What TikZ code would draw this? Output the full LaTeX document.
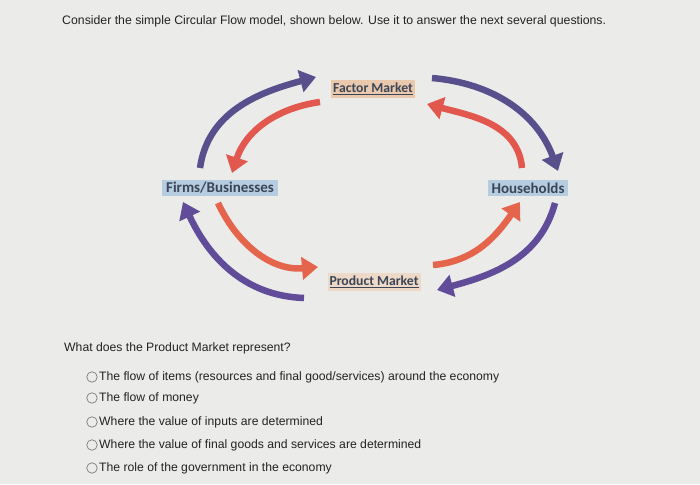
\documentclass[tikz,border=0pt]{standalone}
\usepackage{fontspec}
\setmainfont{Liberation Sans}
\newfontfamily\boxfont{Carlito}
\usetikzlibrary{arrows.meta}
\definecolor{bg}{RGB}{235,235,233}
\definecolor{flowpurple}{RGB}{88,80,140}
\definecolor{flowviolet}{RGB}{96,76,152}
\definecolor{flowred}{RGB}{226,88,78}
\definecolor{floworange}{RGB}{228,100,76}
\definecolor{boxblue}{RGB}{182,204,224}
\definecolor{boxpeach}{RGB}{234,200,174}
\definecolor{boxpeachlt}{RGB}{238,216,200}
\definecolor{labeltext}{RGB}{58,70,86}
\definecolor{qtext}{RGB}{35,35,35}
\tikzset{
  flow/.style={line width=6.5pt, -{Triangle[width=22pt,length=16pt]}},
  mkt/.style={font=\boxfont\bfseries\fontsize{13.7}{15}\selectfont, text=labeltext, inner xsep=2pt, inner ysep=3pt},
  agent/.style={font=\boxfont\bfseries\fontsize{15}{16}\selectfont, text=labeltext, inner xsep=4pt, inner ysep=2.5pt, fill=boxblue},
  qline/.style={anchor=west, font=\fontsize{12.2}{14}\selectfont, text=qtext, inner sep=0pt},
  radio/.style={circle, draw=gray!85!black, line width=0.6pt, minimum size=10.5pt, inner sep=0pt}
}
\begin{document}
\begin{tikzpicture}[x=1pt,y=1pt]
\fill[bg] (0,0) rectangle (700,484);
\useasboundingbox (0,0) rectangle (700,484);

\node[qline, font=\fontsize{12.3}{14}\selectfont] (title) at (62,463) {Consider the simple Circular Flow model, shown below. Use it to answer the next several questions.};

\node[mkt, fill=boxpeach] (factor) at (373,395) {\underline{Factor Market}};
\node[agent] (firms) at (220,296) {Firms/Businesses};
\node[agent] (house) at (528,296) {Households};
\node[mkt, fill=boxpeachlt] (product) at (374,202) {\underline{Product Market}};

\coordinate (a1s) at (200,316); \coordinate (a1e) at (316,407);
\coordinate (a2s) at (320,382); \coordinate (a2e) at (232,311);
\coordinate (a3s) at (432,406); \coordinate (a3e) at (558,313);
\coordinate (a4s) at (522,316); \coordinate (a4e) at (427,380);
\coordinate (a5s) at (218,281); \coordinate (a5e) at (318,217);
\coordinate (a6s) at (304,186); \coordinate (a6e) at (183,282);
\coordinate (a7s) at (433,219); \coordinate (a7e) at (520,282);
\coordinate (a8s) at (555,281); \coordinate (a8e) at (437,194);

\draw[flow, flowpurple] (a1s) to[out=82, in=195] (a1e);
\draw[flow, flowred] (a2s) to[out=188, in=72] (a2e);
\draw[flow, flowpurple] (a3s) to[out=-5, in=110] (a3e);
\draw[flow, flowred] (a4s) to[out=95, in=-15] (a4e);
\draw[flow, floworange] (a5s) to[out=-65, in=185] (a5e);
\draw[flow, flowviolet] (a6s) to[out=178, in=-65] (a6e);
\draw[flow, floworange] (a7s) to[out=5, in=235] (a7e);
\draw[flow, flowviolet] (a8s) to[out=-105, in=15] (a8e);

\node[qline] (q) at (64,136) {What does the Product Market represent?};
\node[radio] (r1) at (92,107) {};
\node[radio] (r2) at (92,86) {};
\node[radio] (r3) at (92,62) {};
\node[radio] (r4) at (92,39) {};
\node[radio] (r5) at (92,16) {};
\node[qline] (o1) at (99,107) {The flow of items (resources and final good/services) around the economy};
\node[qline] (o2) at (99,86) {The flow of money};
\node[qline] (o3) at (99,62) {Where the value of inputs are determined};
\node[qline] (o4) at (99,39) {Where the value of final goods and services are determined};
\node[qline] (o5) at (99,16) {The role of the government in the economy};
\end{tikzpicture}
\end{document}
